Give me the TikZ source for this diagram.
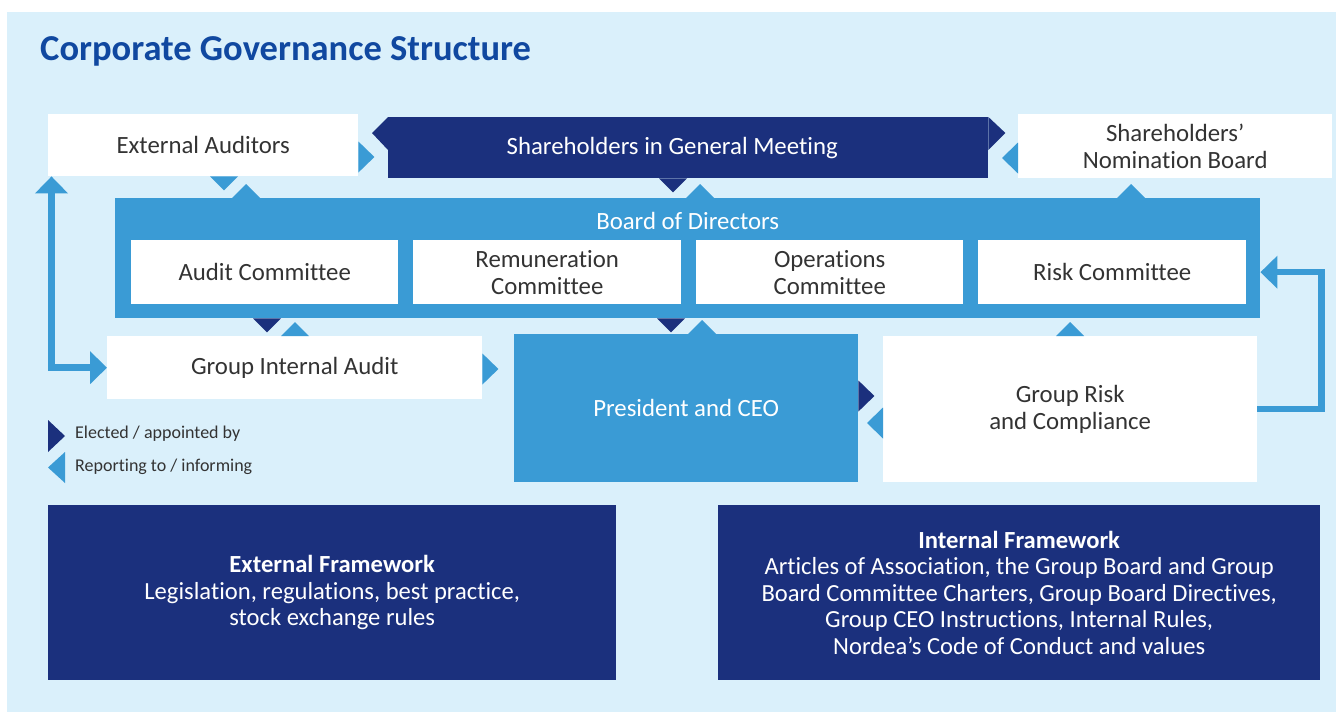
\documentclass[tikz,border=0pt]{standalone}
\usepackage{fontspec}
\setmainfont{Carlito}[Ligatures=NoCommon]
\usetikzlibrary{calc,arrows.meta}

\definecolor{bgblue}{RGB}{218,240,251}
\definecolor{navy}{RGB}{27,48,125}
\definecolor{midblue}{RGB}{58,155,213}
\definecolor{titleblue}{RGB}{16,72,160}
\definecolor{ink}{RGB}{51,51,51}

% small triangular markers attached to the boxes
% down / up: colour, x position, anchor giving the base line
\newcommand\tridn[3]{\fill[#1] ($(#2,0 |- #3)+(-14,0)$) -- ++(28,0) -- ++(-14,14) -- cycle;}
\newcommand\triup[3]{\fill[#1] ($(#2,0 |- #3)+(-14,0)$) -- ++(28,0) -- ++(-14,-14) -- cycle;}
% right / left: colour, y position, anchor giving the base line
\newcommand\trirt[3]{\fill[#1] ($(#3 |- 0,#2)+(0,-15.5)$) -- ++(0,31) -- ++(16,-15.5) -- cycle;}
\newcommand\trilt[3]{\fill[#1] ($(#3 |- 0,#2)+(0,-15.5)$) -- ++(0,31) -- ++(-16,-15.5) -- cycle;}

\tikzset{
  box/.style={anchor=north west, inner sep=0pt, align=center,
    font=\fontsize{24.8}{27}\selectfont},
  whitebox/.style={box, fill=white, text=ink},
  navybox/.style={box, fill=navy, text=white},
  bluebox/.style={box, fill=midblue, text=white},
  framebox/.style={navybox, minimum height=175pt,
    font=\fontsize{24.6}{26.5}\selectfont},
  legendtext/.style={anchor=west, inner sep=0pt, text=ink,
    font=\fontsize{18}{20}\selectfont},
  conn/.style={draw=midblue, line width=6.5pt},
  bigtip/.tip={Triangle[width=32pt,length=17pt]},
}

\begin{document}
\begin{tikzpicture}[x=1pt,y=-1pt]
  \useasboundingbox (0,0) rectangle (1336,712);
  \fill[white] (0,0) rectangle (1336,712);
  \fill[bgblue] (7,12) rectangle (1336,712);

  % heading
  \node[anchor=base west, inner sep=0pt, text=titleblue,
        font=\bfseries\fontsize{36.5}{40}\selectfont] (title) at (40,60)
        {Corporate Governance Structure};

  % top row
  \node[whitebox, minimum width=310pt, minimum height=62pt] (ea) at (48,114) {External Auditors};
  \node[navybox, minimum width=600pt, minimum height=61pt] (sgm) at (388,117)
        {Shareholders in General Meeting\hspace*{32pt}};
  \fill[navy] (sgm.north west) -- ++(-16,16) -- ++(16,17) -- cycle;
  \fill[navy] (sgm.north east) -- ++(17,16) -- ++(-17,17) -- cycle;
  \node[whitebox, minimum width=314pt, minimum height=64pt] (snb) at (1018,114) {Shareholders’\\Nomination Board};

  % board with its committees
  \node[bluebox, minimum width=1145pt, minimum height=120pt] (bod) at (115,198) {};
  \node[inner sep=0pt, text=white, font=\fontsize{24.8}{27}\selectfont] (bodt)
        at ($(bod.north)+(0,23)$) {Board of Directors};
  \node[whitebox, minimum width=267pt, minimum height=64pt] (ac) at (131,240) {Audit Committee};
  \node[whitebox, minimum width=268pt, minimum height=64pt] (rc) at (413,240) {Remuneration\\Committee};
  \node[whitebox, minimum width=267pt, minimum height=64pt] (oc) at (696,240) {Operations\\Committee};
  \node[whitebox, minimum width=268pt, minimum height=64pt] (rk) at (978,240) {Risk Committee};

  % management level
  \node[whitebox, minimum width=375pt, minimum height=63pt] (gia) at (107,336) {Group Internal Audit};
  \node[bluebox, minimum width=344pt, minimum height=148pt] (ceo) at (514,334) {President and CEO};
  \node[whitebox, minimum width=374pt, minimum height=146pt] (grc) at (883,336) {Group Risk\\and Compliance};

  % frameworks
  \node[framebox, minimum width=568pt] (ext) at (48,505)
        {\textbf{External Framework}\\Legislation, regulations, best practice,\\stock exchange rules};
  \node[framebox, minimum width=602pt] (int) at (718,505)
        {\textbf{Internal Framework}\\Articles of Association, the Group Board and Group\\Board Committee Charters, Group Board Directives,\\Group CEO Instructions, Internal Rules,\\Nordea’s Code of Conduct and values};

  % markers between the boxes
  \trirt{midblue}{157}{ea.east}
  \trilt{midblue}{158}{snb.west}
  \tridn{midblue}{224}{ea.south}
  \triup{midblue}{246}{bod.north}
  \tridn{navy}{673}{sgm.south}
  \triup{midblue}{700}{bod.north}
  \triup{midblue}{1131}{bod.north}
  \tridn{navy}{267}{bod.south}
  \triup{midblue}{295}{gia.north}
  \tridn{navy}{671}{bod.south}
  \triup{midblue}{702}{ceo.north}
  \triup{midblue}{1070}{grc.north}
  \trirt{midblue}{369}{gia.east}
  \trirt{navy}{396}{ceo.east}
  \trilt{midblue}{423}{grc.west}

  % connectors
  \draw[conn, bigtip-bigtip] (gia.west) -| ([xshift=3.5pt]ea.south west);
  \draw[conn, -bigtip] (grc.east) -- ++(64,0) |- (bod.east |- rk.east);

  % key
  \node[legendtext] (leg1) at (75,434) {Elected / appointed by};
  \node[legendtext] (leg2) at (75,467) {Reporting to / informing};
  \fill[navy] ($(leg1.west)+(-27,-14)$) -- ++(0,32) -- ++(17,-16) -- cycle;
  \fill[midblue] ($(leg2.west)+(-10,-15)$) -- ++(0,31) -- ++(-17,-15.5) -- cycle;
\end{tikzpicture}
\end{document}
